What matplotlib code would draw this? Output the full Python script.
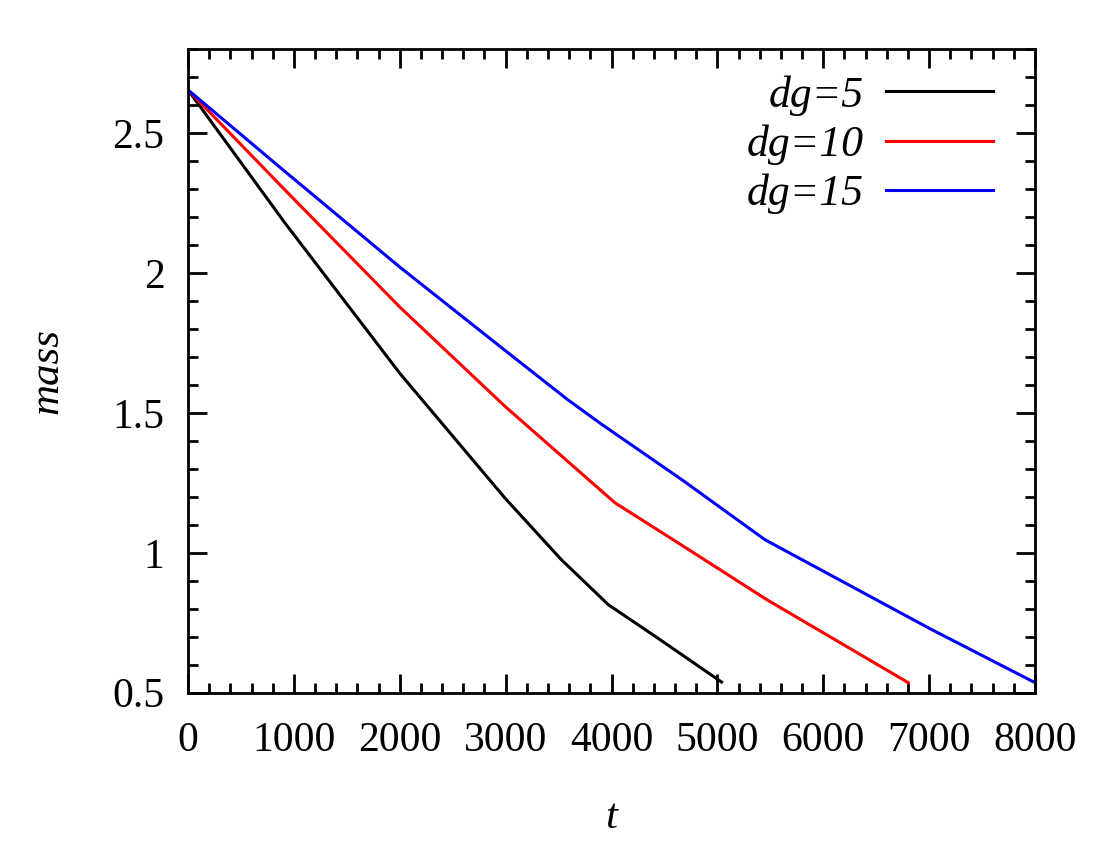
import matplotlib
matplotlib.use("Agg")
import matplotlib.pyplot as plt
from matplotlib.ticker import MultipleLocator

# data
t_dg5 = [0, 916, 2002, 2993, 3525, 3969, 4457, 5040]
m_dg5 = [2.655, 2.179, 1.641, 1.196, 0.976, 0.815, 0.690, 0.538]

t_dg10 = [0, 916, 2002, 2993, 4032, 4677, 5465, 6802]
m_dg10 = [2.655, 2.297, 1.878, 1.524, 1.179, 1.024, 0.833, 0.536]

t_dg15 = [0, 916, 2002, 2993, 3588, 3890, 4677, 5449, 7007, 8000]
m_dg15 = [2.655, 2.363, 2.021, 1.724, 1.547, 1.464, 1.258, 1.047, 0.729, 0.536]

labels = ["dg=5", "dg=10", "dg=15"]
colors = ["#000000", "#ff0000", "#0000ff"]

plt.rcParams['font.family'] = ['Liberation Serif', 'DejaVu Serif']

fig = plt.figure(figsize=(11, 8.5), dpi=100)
ax = fig.add_axes([188/1100, 1-692.7/850, (1035-188)/1100, (692.7-49.3)/850])

for t, m, lab, c in zip([t_dg5, t_dg10, t_dg15], [m_dg5, m_dg10, m_dg15], labels, colors):
    ax.plot(t, m, color=c, lw=2.2, label=lab)

ax.set_xlim(0, 8000)
ax.set_ylim(0.5, 2.8)
ax.xaxis.set_major_locator(MultipleLocator(1000))
ax.xaxis.set_minor_locator(MultipleLocator(200))
ax.yaxis.set_minor_locator(MultipleLocator(0.1))
ax.set_yticks([0.5, 1, 1.5, 2, 2.5])
ax.set_yticklabels(["0.5", "1", "1.5", "2", "2.5"])

for s in ax.spines.values():
    s.set_linewidth(2.0)
ax.tick_params(which='both', direction='in', top=True, right=True, width=2.0)
ax.tick_params(which='major', length=13.5)
ax.tick_params(which='minor', length=7)
ax.tick_params(axis='x', which='major', labelsize=30, pad=21)
ax.tick_params(axis='y', which='major', labelsize=30, pad=17)

ax.set_xlabel("t", fontsize=31, style='italic')
ax.xaxis.set_label_coords(0.5, -0.194)
ax.xaxis.label.set_va('center')
ax.set_ylabel("mass", fontsize=31, style='italic', va='center')
ax.yaxis.set_label_coords(-0.166, 0.5)

leg = ax.legend(loc='upper right', bbox_to_anchor=(1-42/847, 1-26/644),
                frameon=False, markerfirst=False, handlelength=2.45,
                handletextpad=0.5, labelspacing=0.2, borderpad=0, borderaxespad=0,
                prop={'family': 'Liberation Serif', 'style': 'italic', 'size': 31.5})

fig.savefig("out.png", dpi=100)
